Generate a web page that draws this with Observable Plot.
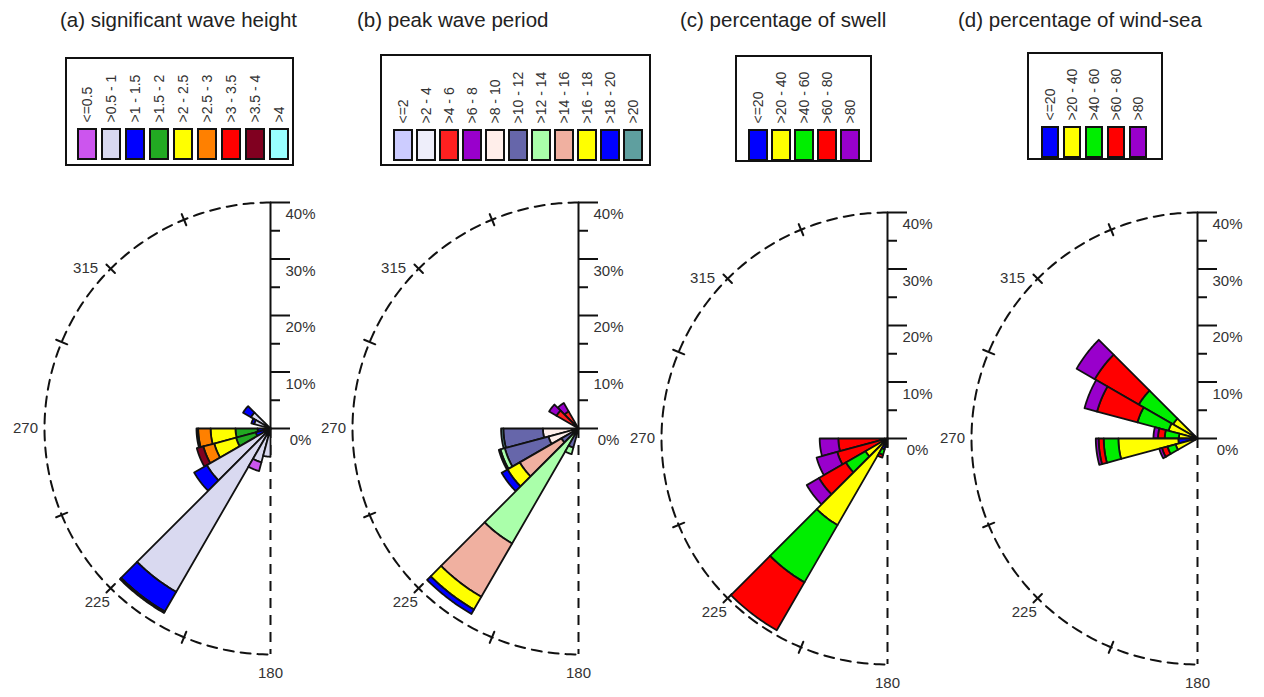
<!DOCTYPE html>
<html><head><meta charset="utf-8">
<script src="https://cdn.jsdelivr.net/npm/d3@7"></script>
<script src="https://cdn.jsdelivr.net/npm/@observablehq/plot@0.6"></script>
<style>
body{margin:0;background:#fff;font-family:Arial,"Liberation Sans",sans-serif;}
#page{position:relative;width:1264px;height:697px;overflow:hidden;}
.title{position:absolute;font-size:20.5px;color:#222;white-space:nowrap;line-height:1;}
.legend{position:absolute;border:2px solid #111;box-sizing:border-box;background:#fff;}
.legend svg,.rose{position:absolute;left:0;top:0;}
</style></head><body><div id="page"></div>
<script>
// ---- (a) significant wave height (m) ----
const hsClasses = ["<=0.5", ">0.5 - 1", ">1 - 1.5", ">1.5 - 2", ">2 - 2.5", ">2.5 - 3", ">3 - 3.5", ">3.5 - 4", ">4"];
const hsColors = ["#cc55ee", "#d9d9f0", "#0000ff", "#22aa22", "#ffff00", "#ff8000", "#ff0000", "#800020", "#99ffff"];
// stacking order of the classes from the centre outwards
const hsStack = [1, 0, 2, 3, 4, 5, 6, 7, 8];
const hsDirs = [300, 285, 255, 240, 225, 210, 195, 180];
const hsFreq = [
  [0, 4.0, 1.6, 0, 0, 0, 0, 0, 0],
  [0, 3.0, 0.5, 0, 0, 0, 0, 0, 0],
  [0, 1.0, 1.3, 3.9, 4.4, 2.2, 0, 0.3, 0],
  [0, 1.3, 1.4, 3.6, 4.0, 2.0, 0, 1.2, 0],
  [0, 13.0, 2.6, 0, 0, 0, 0, 0, 0],
  [0, 33.4, 4.0, 0.3, 0, 0, 0, 0, 0],
  [1.6, 6.2, 0, 0, 0, 0, 0, 0, 0],
  [0, 5.0, 0, 0, 0, 0, 0, 0, 0]
];

// ---- (b) peak wave period (s) ----
const tpClasses = ["<=2", ">2 - 4", ">4 - 6", ">6 - 8", ">8 - 10", ">10 - 12", ">12 - 14", ">14 - 16", ">16 - 18", ">18 - 20", ">20"];
const tpColors = ["#ccccff", "#eeeefa", "#ff2020", "#9900cc", "#ffeeea", "#6666aa", "#aaffaa", "#f0b0a0", "#ffff00", "#0000ff", "#5f9f9f"];
const tpStack = [0, 1, 2, 3, 4, 5, 6, 7, 8, 9, 10];
const tpDirs = [315, 300, 255, 240, 225, 210, 195];
const tpFreq = [
  [0, 0, 3.5, 1.7, 0, 0, 0, 0, 0, 0, 0],
  [0, 0, 4.5, 1.5, 0, 0, 0, 0, 0, 0, 0],
  [0, 0, 0, 0, 6.3, 7.0, 0, 0, 0, 0, 0.4],
  [0, 0, 0, 0, 5.5, 8.0, 0.8, 0, 0, 0, 0.3],
  [0, 0, 0, 0, 0, 3.5, 0, 8.5, 2.5, 1.2, 0],
  [0, 0, 0, 0, 0, 0, 23.5, 10.9, 2.6, 0.9, 0],
  [0, 0, 0, 0, 0, 3.5, 1.2, 0, 0, 0, 0]
];

// ---- (c) percentage of swell, (d) percentage of wind-sea ----
const pctClasses = ["<=20", ">20 - 40", ">40 - 60", ">60 - 80", ">80"];
const pctColors = ["#0000ff", "#ffff00", "#00ee00", "#ff0000", "#9900cc"];
const pctStack = [0, 1, 2, 3, 4];
const swellDirs = [255, 240, 225, 210, 195, 180];
const swellFreq = [
  [0.5, 0, 0, 8.2, 3.3],
  [0.5, 0, 0, 8.7, 3.8],
  [1.0, 3.5, 4.0, 5.5, 2.5],
  [1.0, 16.7, 11.7, 9.8, 0],
  [2.0, 0, 1.0, 0.5, 0],
  [0, 0, 1.5, 0, 0]
];
const windDirs = [300, 285, 270, 255, 240];
const windFreq = [
  [0.5, 4.5, 7.0, 9.0, 3.7],
  [0.5, 4.8, 5.7, 7.4, 2.3],
  [0.3, 3.0, 2.5, 1.2, 0.8],
  [3.4, 10.6, 2.6, 0.9, 0.5],
  [0.5, 3.5, 1.5, 1.0, 0.5]
];

const rTicks = [0, 10, 20, 30, 40];
const rMinor = [5, 15, 25, 35];
const dirLabels = [315, 270, 225, 180];
const dirTicks = [337.5, 315, 292.5, 247.5, 225, 202.5];
const sectorWidth = 15;
const rMax = 40;

const page = document.getElementById("page");
const rad = (b) => b * Math.PI / 180;
const polar = (r, b) => ({x: r * Math.sin(rad(b)), y: r * Math.cos(rad(b))});
// the 315 label sits a little below its tick, the others on the radius
const labelBearing = (b) => (b === 315 ? 311 : b);

function title(text, left, top) {
  const d = document.createElement("div");
  d.className = "title";
  d.textContent = text;
  d.style.left = left + "px";
  d.style.top = top + "px";
  page.appendChild(d);
}

function legend(classes, colors, box) {
  const n = classes.length;
  const div = document.createElement("div");
  div.className = "legend";
  Object.assign(div.style, {left: box.left + "px", top: box.top + "px", width: box.w + "px", height: box.h + "px"});
  const iw = box.w - 4, ih = box.h - 4;
  const x0 = box.sx - box.left - 2 - (box.step - box.sw) / 2;
  const x1 = x0 + n * box.step;
  const mt = box.sy - box.top - 2;
  const pad = 1 - box.sw / box.step;
  const svg = Plot.plot({
    width: iw, height: ih,
    marginLeft: x0, marginRight: iw - x1, marginTop: mt, marginBottom: ih - mt - box.sh,
    x: {type: "band", domain: classes, paddingInner: pad, paddingOuter: pad / 2, axis: null},
    y: {domain: [0, 1], axis: null},
    color: {type: "identity"},
    style: {overflow: "visible"},
    marks: [
      Plot.barY(classes, {x: (d) => d, y: 1, fill: (d, i) => colors[i], stroke: "#111", strokeWidth: 2}),
      Plot.text(classes, {x: (d) => d, y: 1, text: (d) => d, rotate: -90, textAnchor: "start", dy: -7,
        fontSize: 14, fill: "#333", fontFamily: "Arial, Liberation Sans, sans-serif"})
    ]
  });
  div.appendChild(svg);
  page.appendChild(div);
}

function rose(dirs, freq, colors, stack, cx, cy, k) {
  const W = 340, H = 500, ox = 260, oy = 240;
  const segs = [];
  dirs.forEach((d, j) => {
    let c = 0;
    stack.forEach((i) => {
      const f = freq[j][i];
      if (!(f > 0)) return;
      const r0 = c, r1 = c + f;
      c = r1;
      const id = j + "-" + i;
      const pts = [];
      for (let a = 0; a <= sectorWidth; a += 0.5) pts.push(polar(r1, d + a));
      for (let a = sectorWidth; a >= 0; a -= 0.5) pts.push(polar(r0, d + a));
      pts.push(pts[0]);
      pts.forEach((p) => segs.push({...p, id, color: colors[i]}));
    });
  });
  const arc = d3.range(0, 181, 1).map((a) => polar(rMax, 360 - a));
  const tickPts = [];
  dirTicks.forEach((b, i) => {
    tickPts.push({...polar(rMax - 6 / k, b), id: i});
    tickPts.push({...polar(rMax + 6 / k, b), id: i});
  });
  const rl = rMax + 19 / k;
  const svg = Plot.plot({
    width: W, height: H, margin: 0,
    x: {domain: [-ox / k, (W - ox) / k], axis: null},
    y: {domain: [-(H - oy) / k, oy / k], axis: null},
    color: {type: "identity"},
    style: {overflow: "visible", background: "transparent"},
    marks: [
      Plot.line(arc, {x: "x", y: "y", stroke: "#111", strokeWidth: 2, strokeDasharray: "10,7"}),
      Plot.ruleX([0], {y1: 0, y2: -rMax, stroke: "#111", strokeWidth: 2, strokeDasharray: "10,7"}),
      Plot.line(tickPts, {x: "x", y: "y", z: "id", stroke: "#111", strokeWidth: 2}),
      Plot.ruleX([0], {y1: 0, y2: rMax, stroke: "#111", strokeWidth: 2}),
      Plot.ruleY(rTicks, {y: (d) => d, x1: 0, x2: 20 / k, stroke: "#111", strokeWidth: 2}),
      Plot.ruleY(rMinor, {y: (d) => d, x1: 0, x2: 10 / k, stroke: "#111", strokeWidth: 2}),
      Plot.text(rTicks, {x: 0, y: (d) => d, text: (d) => d + "%", dx: 30, dy: 12, fontSize: 15, fill: "#333",
        fontFamily: "Arial, Liberation Sans, sans-serif"}),
      Plot.line(segs, {x: "x", y: "y", z: "id", fill: "color", stroke: "#111", strokeWidth: 1.8, strokeLinejoin: "round"}),
      Plot.text(dirLabels, {x: (b) => polar(rl, labelBearing(b)).x, y: (b) => polar(rl, labelBearing(b)).y,
        text: (b) => String(b), fontSize: 15, fill: "#333", fontFamily: "Arial, Liberation Sans, sans-serif"})
    ]
  });
  svg.classList.add("rose");
  svg.style.left = (cx - ox) + "px";
  svg.style.top = (cy - oy) + "px";
  page.appendChild(svg);
}

title("(a) significant wave height", 60, 10);
title("(b) peak wave period", 357, 10);
title("(c) percentage of swell", 680, 10);
title("(d) percentage of wind-sea", 958, 10);

legend(hsClasses, hsColors, {left: 65, top: 57, w: 229, h: 109, sx: 78, step: 24, sw: 18, sy: 129, sh: 30});
legend(tpClasses, tpColors, {left: 380, top: 54, w: 271, h: 112, sx: 392, step: 23.3, sw: 18, sy: 130, sh: 30});
legend(pctClasses, pctColors, {left: 735, top: 55, w: 137, h: 107, sx: 748, step: 23.3, sw: 18, sy: 130, sh: 30});
legend(pctClasses, pctColors, {left: 1027, top: 52, w: 136, h: 108, sx: 1040, step: 22.7, sw: 16, sy: 127, sh: 30});

rose(hsDirs, hsFreq, hsColors, hsStack, 270, 428, 5.65);
rose(tpDirs, tpFreq, tpColors, tpStack, 578, 428, 5.65);
rose(swellDirs, swellFreq, pctColors, pctStack, 887, 438, 5.65);
rose(windDirs, windFreq, pctColors, pctStack, 1197, 438, 5.65);
</script></body></html>
